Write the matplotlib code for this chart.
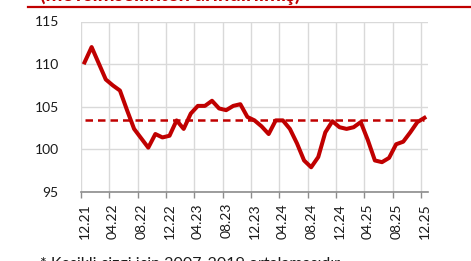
import matplotlib.pyplot as plt
import numpy as np

plt.rcParams['font.family'] = ['Lato', 'DejaVu Sans']

# monthly index, 12.21 .. 12.25
values = [110.2, 112.0, 110.1, 108.2, 107.5, 106.9, 104.6, 102.4, 101.3, 100.2,
          101.8, 101.4, 101.6, 103.4, 102.4, 104.2, 105.1, 105.1, 105.7, 104.8,
          104.6, 105.1, 105.3, 103.8, 103.4, 102.7, 101.8, 103.4, 103.4, 102.4,
          100.7, 98.7, 97.9, 99.1, 102.0, 103.3, 102.6, 102.4, 102.6, 103.2,
          101.1, 98.7, 98.5, 99.0, 100.6, 100.9, 102.0, 103.2, 103.7]
avg_2007_2019 = 103.5
tick_labels = ['12.21', '04.22', '08.22', '12.22', '04.23', '08.23', '12.23',
               '04.24', '08.24', '12.24', '04.25', '08.25', '12.25']

red = '#C00000'
x = np.arange(len(values))

fig = plt.figure(figsize=(4.71, 2.61), dpi=100)
ax = fig.add_axes([81/471, 1-192/261, (428-81)/471, (192-21.5)/261])

ax.plot(x, values, color=red, lw=2.9, solid_joinstyle='round', zorder=3)
ax.plot([x[0], x[-1]], [avg_2007_2019]*2, color=red, lw=1.8, dashes=(3, 2), zorder=2)

ax.set_xlim(-0.5, len(values) - 0.5)
ax.set_ylim(95, 115)
ax.set_yticks([95, 100, 105, 110, 115])
ax.set_xticks(x[::4])
ax.set_xticklabels(tick_labels, rotation=90)
ax.set_xticks(np.arange(-0.5, len(values), 4), minor=True)

ax.grid(axis='y', color='#D9D9D9', lw=1)
ax.grid(axis='x', which='minor', color='#D9D9D9', lw=1)
ax.set_axisbelow(True)

for s in ['top', 'right', 'left']:
    ax.spines[s].set_visible(False)
ax.spines['bottom'].set_color('#8C8C8C')
ax.spines['bottom'].set_linewidth(1.2)

ax.tick_params(axis='y', length=0, pad=16, labelsize=10, labelcolor='#1a1a1a')
ax.tick_params(axis='x', which='major', length=0, pad=8, labelsize=10, labelcolor='#1a1a1a')
ax.tick_params(axis='x', which='minor', length=4, color='#8C8C8C', width=1)

# header and footnote
fig.add_artist(plt.Line2D([28/471, 1], [1-7/261]*2, color=red, lw=1.6))
fig.text(40/471, 1-1/261, '(mevsimsellikten arındırılmış)', color=red,
         fontsize=14.5, fontweight='bold', va='baseline', ha='left')
fig.text(40/471, 1-257/261, '* Kesikli çizgi için 2007-2019 ortalamasıdır',
         fontsize=11.5, va='top', ha='left', color='#1a1a1a')

fig.savefig('out.png', dpi=100)
